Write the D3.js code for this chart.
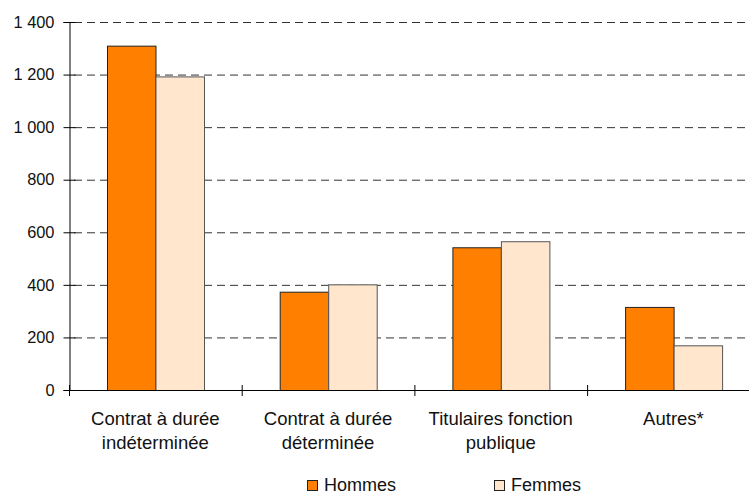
<!DOCTYPE html>
<html><head><meta charset="utf-8">
<script src="https://cdn.jsdelivr.net/npm/d3@7"></script>
<style>body{margin:0;background:#fff}svg{display:block;font-family:"Liberation Sans",Arial,sans-serif}</style>
</head><body><svg id="c" width="749" height="494"></svg>
<script>
const categories = [["Contrat à durée","indéterminée"],["Contrat à durée","déterminée"],["Titulaires fonction","publique"],["Autres*"]];
const series = ["Hommes","Femmes"];
const hommes = [1310, 374, 543, 316];
const femmes = [1193, 402, 566, 170];
const yTicks = [0,200,400,600,800,1000,1200,1400];
const colors = {Hommes:"#FF8000", Femmes:"#FFE6CD"};

const svg = d3.select("#c");
const x0 = 69, yBase = 390, yTop = 22, band = 172.7;
const keys = categories.map((c,i)=>i);
const x = d3.scaleBand().domain(keys).range([x0, x0+band*4]).padding(0);
const xs = d3.scaleBand().domain(series).range([38, 135]).padding(0);
const y = d3.scaleLinear().domain([0,1400]).range([yBase, yTop]);
const fmt = d3.formatLocale({decimal:",",thousands:" ",grouping:[3],currency:["","€"]}).format(",d");
const FF = "Liberation Sans, Arial, sans-serif";

// gridlines
svg.append("g").selectAll("line").data(yTicks.filter(t=>t>0)).join("line")
  .attr("x1", x0+5).attr("x2", 749).attr("y1", d=>y(d)+0.5).attr("y2", d=>y(d)+0.5)
  .attr("stroke","#333").attr("stroke-width",1).attr("stroke-dasharray","8,5");

// bars
const data = keys.map(i=>({i, vals:[{s:"Hommes",v:hommes[i]},{s:"Femmes",v:femmes[i]}]}));
const g = svg.append("g");
data.forEach(d=>{
  g.selectAll(null).data(d.vals).join("rect")
   .attr("x", e=>x(d.i)+xs(e.s)+0.5).attr("y", e=>y(e.v)+0.5)
   .attr("width", xs.bandwidth()).attr("height", e=>yBase-y(e.v))
   .attr("fill", e=>colors[e.s]).attr("stroke", e=>e.s==="Hommes"?"#222":"#555").attr("stroke-width",1);
});

// y axis
const ya = d3.axisLeft(y).tickValues(yTicks).tickFormat(fmt).tickSize(6).tickPadding(7);
const yg = svg.append("g").attr("transform",`translate(${x0+0.5},0)`).call(ya);
yg.select(".domain").attr("stroke","#000");
yg.selectAll(".tick line").attr("x2",6).attr("x1",-6).attr("stroke","#000");
yg.selectAll(".tick text").attr("font-size","16.4px").attr("fill","#111").attr("x",-15).attr("font-family",FF);

// x axis
svg.append("line").attr("x1",x0).attr("x2",749).attr("y1",yBase+0.5).attr("y2",yBase+0.5).attr("stroke","#000");
svg.append("g").selectAll("line").data(keys).join("line")
  .attr("x1",d=>x(d)+0.5).attr("x2",d=>x(d)+0.5).attr("y1",yBase-5).attr("y2",yBase+6).attr("stroke","#000");

// category labels
const lab = svg.append("g").attr("font-size","18.5px").attr("fill","#111").attr("text-anchor","middle").attr("font-family",FF);
categories.forEach((lines,i)=>{
  lines.forEach((t,k)=>{
    lab.append("text").attr("x", x(i)+band/2).attr("y", 424.5+k*24).text(t);
  });
});

// legend
const leg = svg.append("g").attr("font-size","18px").attr("fill","#111").attr("font-family",FF);
const legX = [307, 494];
series.forEach((s,i)=>{
  leg.append("rect").attr("x",legX[i]+0.5).attr("y",480.5).attr("width",10).attr("height",10)
    .attr("fill",colors[s]).attr("stroke","#222");
  leg.append("text").attr("x",legX[i]+17).attr("y",491).text(s);
});
</script></body></html>
